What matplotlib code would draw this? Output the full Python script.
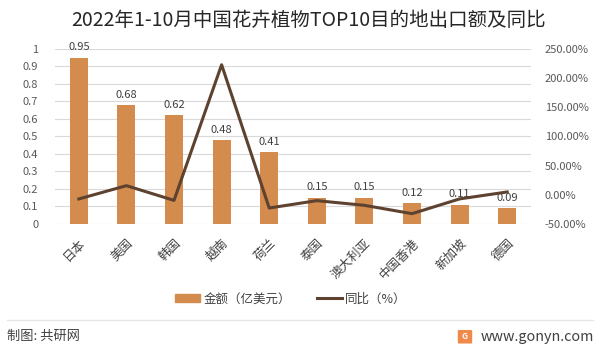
import matplotlib
matplotlib.use("Agg")
import matplotlib.pyplot as plt
from matplotlib.patches import FancyBboxPatch
from matplotlib.lines import Line2D
from matplotlib.ticker import FuncFormatter

plt.rcParams['font.family'] = ['Noto Sans CJK SC', 'DejaVu Sans']

countries = ["日本", "美国", "韩国", "越南", "荷兰", "泰国", "澳大利亚", "中国香港", "新加坡", "德国"]
amount = [0.95, 0.68, 0.62, 0.48, 0.41, 0.15, 0.15, 0.12, 0.11, 0.09]
yoy = [-7.1, 15.7, -9.5, 223.0, -22.6, -10.0, -18.0, -32.3, -7.0, 4.9]

bar_color = "#D38B4E"
line_color = "#5E4230"
text_color = "#595959"

fig = plt.figure(figsize=(6, 3.47), dpi=100)
ax = fig.add_axes([0.0917, 0.3545, 0.7933, 0.5043])
x = range(len(countries))

ax.bar(x, amount, width=0.38, color=bar_color, zorder=2)
for i, v in enumerate(amount):
    ax.text(i, v + 0.03, "%.2f" % v, ha="center", va="bottom", fontsize=8, color="#404040")

ax.set_ylim(0, 1)
ax.set_yticks([i / 10 for i in range(11)])
ax.set_yticklabels(["0", "0.1", "0.2", "0.3", "0.4", "0.5", "0.6", "0.7", "0.8", "0.9", "1"])
ax.set_xlim(-0.5, len(countries) - 0.5)
ax.set_xticks(list(x))
ax.set_xticklabels(countries, rotation=45, ha="right", rotation_mode="anchor")
ax.grid(axis="y", color="#D9D9D9", linewidth=0.8, zorder=0)
ax.tick_params(axis="y", length=0, labelsize=8, colors=text_color, pad=12)
ax.tick_params(axis="x", length=0, labelsize=9, colors="#404040", pad=9)
for s in ax.spines.values():
    s.set_visible(False)

ax2 = ax.twinx()
ax2.plot(x, yoy, color=line_color, linewidth=2.2, zorder=3)
ax2.set_ylim(-50, 250)
ax2.set_yticks([-50, 0, 50, 100, 150, 200, 250])
ax2.yaxis.set_major_formatter(FuncFormatter(lambda v, p: "%.2f%%" % v))
ax2.tick_params(axis="y", length=0, labelsize=8, colors=text_color, pad=10)
for s in ax2.spines.values():
    s.set_visible(False)

fig.text(0.515, 0.94, "2022年1-10月中国花卉植物TOP10目的地出口额及同比", ha="center", va="center",
         fontsize=14, color="#262626")

handles = [plt.Rectangle((0, 0), 1, 1, color=bar_color),
           Line2D([0], [0], color=line_color, linewidth=2.2)]
fig.legend(handles, ["金额（亿美元）", "同比（%）"], loc="center", bbox_to_anchor=(0.485, 0.138),
           ncol=2, frameon=False, fontsize=9, handlelength=2.0, handleheight=0.6,
           handletextpad=0.3, columnspacing=2.0, labelcolor="#404040")

fig.add_artist(Line2D([0.012, 0.988], [0.077, 0.077], color="#E6E6E6", linewidth=1))
fig.text(0.012, 0.03, "制图: 共研网", ha="left", va="center", fontsize=9.5, color="#404040")
fig.add_artist(FancyBboxPatch((0.765, 0.012), 0.02, 0.035, boxstyle="round,pad=0.002",
                              facecolor="#F08A4B", edgecolor="none", transform=fig.transFigure))
fig.text(0.775, 0.03, "G", ha="center", va="center", fontsize=6, color="white", fontweight="bold")
fig.text(0.99, 0.03, "www.gonyn.com", ha="right", va="center", fontsize=10.3, color="#404040")

fig.savefig("out.png", dpi=100)
